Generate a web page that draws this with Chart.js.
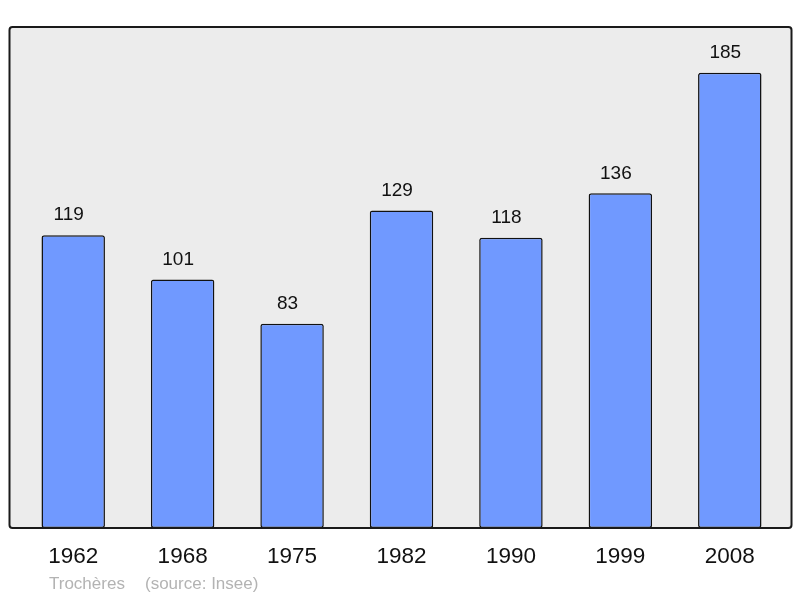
<!DOCTYPE html>
<html>
<head>
<meta charset="utf-8">
<script src="https://cdn.jsdelivr.net/npm/chart.js@4/dist/chart.umd.min.js"></script>
<style>
html,body{margin:0;padding:0;background:#fff;}
#wrap{width:800px;height:598px;position:relative;}
</style>
</head>
<body>
<div id="wrap"><canvas id="popChart"></canvas></div>
<script>
// Population by census year
const years = ["1962","1968","1975","1982","1990","1999","2008"];
const population = [119,101,83,129,118,136,185];
const footerName = "Trochères";
const footerSource = "(source: Insee)";

// grey frame behind the bars, value labels, year labels, footer
const decor = {
  id: "decor",
  beforeDraw(chart){
    const a = chart.chartArea, c = chart.ctx;
    const x0 = a.left - 9, x1 = a.right + 7, y0 = a.top, y1 = a.bottom;
    c.save();
    c.beginPath();
    c.roundRect(x0, y0, x1 - x0, y1 - y0, 3);
    c.fillStyle = "#ececec";
    c.fill();
    c.restore();
  },
  afterDatasetsDraw(chart){
    const a = chart.chartArea, c = chart.ctx;
    const x0 = a.left - 9, x1 = a.right + 7, y0 = a.top, y1 = a.bottom;
    c.save();
    c.beginPath();
    c.roundRect(x0, y0, x1 - x0, y1 - y0, 3);
    c.lineWidth = 2;
    c.strokeStyle = "#1a1a1a";
    c.stroke();

    const meta = chart.getDatasetMeta(0);
    c.fillStyle = "#111";
    c.textAlign = "center";
    c.textBaseline = "middle";
    c.font = "19px 'Liberation Sans', Arial, sans-serif";
    meta.data.forEach((bar, i) => {
      c.fillText(String(population[i]), bar.x - 4.5, bar.y - 20);
    });

    const xs = chart.scales.x;
    c.font = "22.5px 'Liberation Sans', Arial, sans-serif";
    years.forEach((y, i) => {
      c.fillText(y, xs.getPixelForValue(i), y1 + 29);
    });

    c.fillStyle = "#b3b3b3";
    c.textAlign = "left";
    c.font = "17px 'Liberation Sans', Arial, sans-serif";
    c.fillText(footerName, 49, 584);
    c.fillText(footerSource, 145, 584);
    c.restore();
  }
};

new Chart(document.getElementById("popChart"), {
  type: "bar",
  data: {
    labels: years,
    datasets: [{
      data: population,
      backgroundColor: "#7099ff",
      borderColor: "#111",
      borderWidth: 1.5,
      borderRadius: 2.5,
      borderSkipped: false,
      barPercentage: 0.58,
      categoryPercentage: 1
    }]
  },
  options: {
    responsive: true,
    maintainAspectRatio: false,
    animation: false,
    layout: { padding: { left: 18.5, right: 15.5, top: 27, bottom: 70 } },
    plugins: { legend: { display: false }, tooltip: { enabled: false } },
    scales: {
      x: { display: false },
      y: { display: false, min: 0, max: 203.6 }
    }
  },
  plugins: [decor]
});
</script>
</body>
</html>
